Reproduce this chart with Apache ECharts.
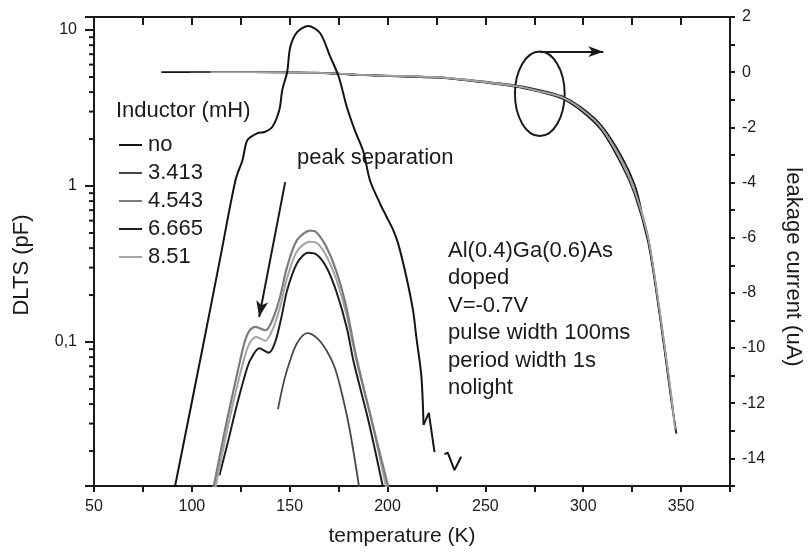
<!DOCTYPE html>
<html>
<head>
<meta charset="utf-8">
<title>DLTS and leakage current vs temperature</title>
<script src="https://cdn.jsdelivr.net/npm/echarts@6/dist/echarts.min.js"></script>
<style>
  html, body { margin: 0; padding: 0; background: #fff; }
  #chart { width: 812px; height: 559px; }
</style>
</head>
<body>
<div id="chart"></div>
<script>
// legend entries, inductor in mH
var inductors = ["no", "3.413", "4.543", "6.665", "8.51"];

// DLTS (pF) vs temperature (K)
var tempNo = [91.0, 106.1, 114.5, 122.3, 125.9, 128.4, 133.5, 137.1, 141.1, 144.7, 146.2, 148.7, 150.3, 153.8, 159.4, 165.5, 170.6, 175.1, 179.2, 183.2, 187.7, 191.0, 196.1, 199.5, 202.9, 205.4, 209.6, 213.0, 214.7, 217.3, 218.4];
var dltsNo = [0.0112, 0.1, 0.345, 1.09, 1.47, 1.97, 2.18, 2.22, 2.39, 3.07, 4.12, 5.38, 7.78, 9.7, 10.6, 9.57, 6.81, 5.0, 3.21, 2.29, 1.65, 1.09, 0.775, 0.636, 0.522, 0.429, 0.262, 0.160, 0.108, 0.060, 0.0294];
var tempNoTail = [218.4, 221.1, 224.0, null, 229.1, 230.8, 234.2, 237.6];
var dltsNoTail = [0.0294, 0.0351, 0.0197, null, 0.0191, 0.0195, 0.0151, 0.0184];

var temp3413 = [144.0, 147.2, 150.3, 153.8, 158.9, 164.0, 169.0, 173.1, 176.6, 180.7, 185.6];
var dlts3413 = [0.0371, 0.057, 0.0767, 0.0986, 0.114, 0.106, 0.0876, 0.0681, 0.0471, 0.0273, 0.0115];

var temp4543 = [111.0, 116.6, 121.7, 126.8, 129.4, 132.5, 137.6, 141.6, 145.2, 148.7, 153.8, 160.6, 163.5, 168.5, 173.6, 178.7, 183.8, 191.4, 200.6];
var dlts4543 = [0.0115, 0.0261, 0.0517, 0.0981, 0.1177, 0.125, 0.119, 0.1426, 0.197, 0.304, 0.451, 0.517, 0.507, 0.412, 0.290, 0.173, 0.0826, 0.0333, 0.0115];

var temp6665 = [114.1, 118.3, 123.4, 128.4, 131.0, 134.4, 139.4, 142.6, 145.7, 148.7, 153.8, 159.4, 164.0, 169.0, 174.1, 179.2, 182.7, 190.4, 197.8];
var dlts6665 = [0.014, 0.0225, 0.0412, 0.0692, 0.0813, 0.0912, 0.0854, 0.1, 0.1426, 0.215, 0.321, 0.373, 0.361, 0.298, 0.206, 0.123, 0.0744, 0.0307, 0.0115];

var temp8510 = [112.0, 117.3, 122.3, 127.4, 129.9, 133.0, 137.6, 141.6, 145.2, 148.7, 153.8, 160.4, 164.0, 169.0, 174.1, 179.2, 184.3, 191.9, 199.4];
var dlts8510 = [0.0115, 0.0246, 0.0471, 0.0838, 0.1, 0.1076, 0.102, 0.123, 0.170, 0.257, 0.383, 0.44, 0.431, 0.351, 0.246, 0.147, 0.0744, 0.0312, 0.0115];

// leakage current (uA) vs temperature (K)
var leakTempNo = [84.4, 130, 164, 188, 225, 238, 265, 277, 289, 299, 309.5, 319.6, 326.4, 333, 337, 341.6, 345, 347.6];
var leakNo = [0, 0, -0.02, -0.11, -0.2, -0.28, -0.52, -0.7, -0.95, -1.4, -2.12, -3.35, -4.45, -6.1, -7.8, -10.1, -11.9, -13.1];
var leakTemp3413 = [98.9, 130, 164, 188, 225, 238, 265, 277, 289, 299, 309.5, 319.6, 326.4, 333, 337, 341.6, 345, 347.2];
var leak3413 = [0, 0, -0.02, -0.1, -0.19, -0.27, -0.5, -0.68, -0.92, -1.35, -2.06, -3.28, -4.38, -6.0, -7.7, -10.0, -11.8, -13.0];
var leakTemp4543 = [109.6, 130, 164, 188, 225, 238, 265, 277, 289, 299, 309.5, 319.6, 326.4, 333, 337, 341.6, 345, 347.0];
var leak4543 = [0, 0, -0.02, -0.1, -0.18, -0.26, -0.49, -0.67, -0.9, -1.33, -2.02, -3.2, -4.3, -5.9, -7.6, -9.9, -11.7, -12.9];
var leakTemp6665 = [170, 188, 225, 238, 265, 277, 289, 299, 309.5, 319.6, 326.4, 329.8];
var leak6665 = [-0.04, -0.1, -0.18, -0.26, -0.48, -0.64, -0.87, -1.28, -1.95, -3.05, -4.1, -5.05];
var leakTemp8510 = [109.6, 130, 164, 188, 225, 238, 265, 277, 289, 299, 309.5, 319.6, 326.4, 333, 337, 341.6, 345, 346.8];
var leak8510 = [0, 0, -0.02, -0.1, -0.18, -0.26, -0.5, -0.68, -0.91, -1.34, -2.04, -3.24, -4.34, -5.95, -7.65, -9.95, -11.75, -12.95];

// axis ticks
var dltsMajorTicks = [0.1, 1, 10];
var dltsTickLabels = ["0,1", "1", "10"];
var dltsMinorTicks = [0.02, 0.03, 0.04, 0.05, 0.06, 0.07, 0.08, 0.09,
                      0.2, 0.3, 0.4, 0.5, 0.6, 0.7, 0.8, 0.9,
                      2, 3, 4, 5, 6, 7, 8, 9];

var colors = { "no": "#141414", "3.413": "#484848", "4.543": "#7c7c7c", "6.665": "#1e1e1e", "8.51": "#a4a4a4" };
var font = "'Liberation Sans', Arial, Helvetica, sans-serif";
var ink = "#1a1a1a";

function pairs(xs, ys) {
  return xs.map(function (x, i) {
    return x === null ? [NaN, "-"] : [x, ys[i]];
  });
}

function curve(name, xs, ys, opts) {
  var s = {
    name: name,
    type: "line",
    data: pairs(xs, ys),
    showSymbol: false,
    smooth: 0.3,
    color: colors[name],
    lineStyle: { color: colors[name], width: 2 },
    emphasis: { disabled: true },
    silent: true
  };
  for (var k in opts) s[k] = opts[k];
  return s;
}

var chart = echarts.init(document.getElementById("chart"));

var axisLine = { show: true, onZero: false, lineStyle: { color: ink, width: 2 } };
var tickFont = { fontFamily: font, fontSize: 16, color: ink };

chart.setOption({
  animation: false,
  backgroundColor: "#fff",
  textStyle: { fontFamily: font },
  grid: { left: 94, right: 74, top: 17, bottom: 73, containLabel: false },
  legend: {
    data: inductors,
    orient: "vertical",
    left: 114,
    top: 129,
    icon: "rect",
    itemWidth: 23,
    itemHeight: 2,
    itemGap: 6,
    selectedMode: false,
    textStyle: { fontFamily: font, fontSize: 22, lineHeight: 22, color: ink, padding: [0, 0, 0, 1] }
  },
  xAxis: [{
    type: "value",
    min: 50, max: 375, interval: 25,
    name: "temperature (K)",
    nameLocation: "middle",
    nameGap: 40,
    nameTextStyle: { fontFamily: font, fontSize: 21, color: ink, padding: [0, 20, 0, 0] },
    axisLine: axisLine,
    axisTick: { show: true, length: 6, lineStyle: { color: ink, width: 2 } },
    axisLabel: Object.assign({ margin: 13, formatter: function (v) { return v % 50 === 0 ? String(v) : ""; } }, tickFont),
    splitLine: { show: false }
  }, {
    type: "value",
    position: "top",
    min: 50, max: 375, interval: 25,
    axisLine: axisLine,
    axisTick: { show: true, inside: true, length: 8, lineStyle: { color: ink, width: 2 } },
    axisLabel: { show: false },
    splitLine: { show: false }
  }],
  yAxis: [{
    type: "log",
    logBase: 10,
    min: 0.01194, max: 12.12,
    position: "left",
    name: "DLTS (pF)",
    nameLocation: "middle",
    nameGap: 61,
    nameRotate: 90,
    nameTextStyle: { fontFamily: font, fontSize: 22, color: ink, padding: [0, 27, 0, 0] },
    axisLine: axisLine,
    axisTick: { show: true, length: 9, lineStyle: { color: ink, width: 2 } },
    axisLabel: Object.assign({
      margin: 17,
      formatter: function (v) {
        for (var i = 0; i < dltsMajorTicks.length; i++) {
          if (Math.abs(v - dltsMajorTicks[i]) < dltsMajorTicks[i] * 1e-6) return dltsTickLabels[i];
        }
        return "";
      }
    }, tickFont),
    splitLine: { show: false }
  }, {
    type: "value",
    position: "right",
    min: -15, max: 2, interval: 1,
    name: "leakage current (uA)",
    nameLocation: "middle",
    nameGap: 52,
    nameRotate: -90,
    nameTextStyle: { fontFamily: font, fontSize: 22, color: ink, padding: [0, 0, 0, 31] },
    axisLine: axisLine,
    axisTick: { show: true, length: 5, lineStyle: { color: ink, width: 2 } },
    axisLabel: Object.assign({ margin: 12, formatter: function (v) { return v % 2 === 0 ? String(v) : ""; } }, tickFont),
    splitLine: { show: false }
  }],
  series: [
    // minor ticks of the log axis
    {
      type: "custom",
      silent: true,
      clip: false,
      data: dltsMinorTicks.map(function (v) { return [50, v]; }),
      renderItem: function (params, api) {
        var p = api.coord([api.value(0), api.value(1)]);
        return { type: "line", shape: { x1: p[0] - 5, y1: p[1], x2: p[0], y2: p[1] }, style: { stroke: ink, lineWidth: 2 } };
      }
    },
    // leakage current, right axis
    curve("no", leakTempNo, leakNo, {
      yAxisIndex: 1, lineStyle: { color: colors["no"], width: 1.8 },
      markLine: {
        silent: true, symbol: ["none", "arrow"], symbolSize: [8, 15],
        label: { show: false }, lineStyle: { color: ink, width: 2, type: "solid" },
        data: [[{ coord: [277.8, 0.742] }, { coord: [310.3, 0.742] }]]
      }
    }),
    curve("6.665", leakTemp6665, leak6665, { yAxisIndex: 1, lineStyle: { color: colors["6.665"], width: 1.8 } }),
    curve("3.413", leakTemp3413, leak3413, { yAxisIndex: 1, lineStyle: { color: colors["3.413"], width: 1.6 } }),
    curve("4.543", leakTemp4543, leak4543, { yAxisIndex: 1, lineStyle: { color: colors["4.543"], width: 1.6 } }),
    curve("8.51", leakTemp8510, leak8510, { yAxisIndex: 1, lineStyle: { color: colors["8.51"], width: 1.6 } }),
    // ellipse marking the leakage curves
    {
      type: "custom",
      yAxisIndex: 1,
      silent: true,
      clip: false,
      data: [[277.8, -0.785]],
      renderItem: function (params, api) {
        var c = api.coord([api.value(0), api.value(1)]);
        var s = api.size([12.7, 1.53]);
        return { type: "ellipse", shape: { cx: c[0], cy: c[1], rx: s[0], ry: s[1] }, style: { fill: "none", stroke: ink, lineWidth: 2 } };
      }
    },
    // DLTS, left axis
    curve("no", tempNo, dltsNo, {
      markLine: {
        silent: true, symbol: ["none", "arrow"], symbolSize: [9, 16],
        label: { show: false }, lineStyle: { color: ink, width: 2, type: "solid" },
        data: [[{ coord: [147.7, 1.06] }, { coord: [134.4, 0.1446] }]]
      }
    }),
    curve("no", tempNoTail, dltsNoTail, { smooth: false }),
    curve("3.413", temp3413, dlts3413, { lineStyle: { color: colors["3.413"], width: 1.8 } }),
    curve("6.665", temp6665, dlts6665),
    curve("8.51", temp8510, dlts8510),
    curve("4.543", temp4543, dlts4543, { lineStyle: { color: colors["4.543"], width: 2.2 } })
  ],
  graphic: [
    { type: "text", left: 116, top: 100, style: { text: "Inductor (mH)", font: "22px " + font, fill: ink } },
    { type: "text", left: 297, top: 147, style: { text: "peak separation", font: "22px " + font, fill: ink } },
    {
      type: "text", left: 448, top: 237,
      style: {
        text: "Al(0.4)Ga(0.6)As\ndoped\nV=-0.7V\npulse width 100ms\nperiod width 1s\nnolight",
        font: "22px " + font, lineHeight: 27.5, fill: ink
      }
    }
  ]
});
</script>
</body>
</html>
